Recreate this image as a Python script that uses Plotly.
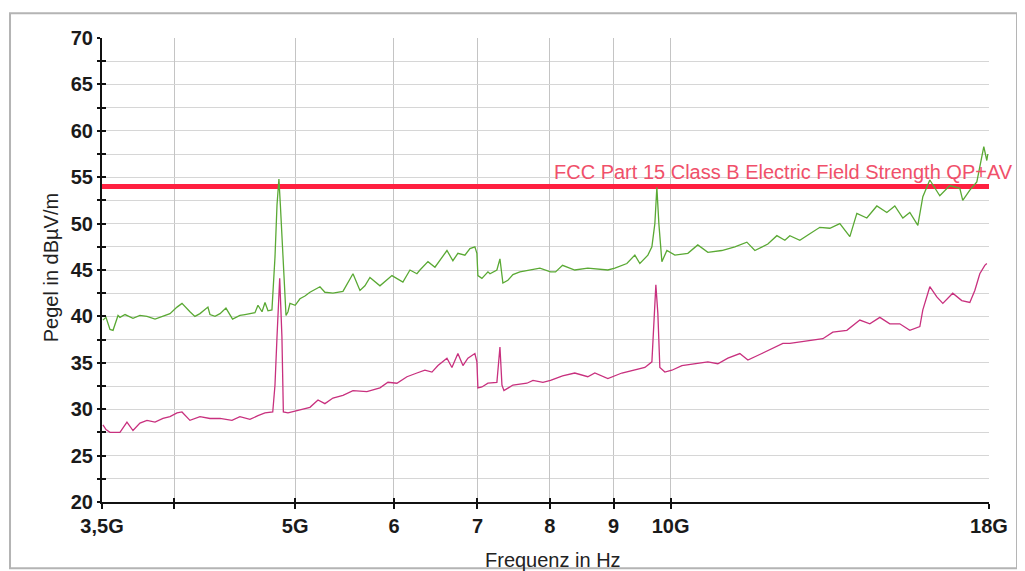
import plotly.graph_objects as go
import math

# ---------------- data ----------------
freq_peak_ghz = [3.506, 3.526, 3.552, 3.572, 3.605, 3.618, 3.652, 3.706, 3.754, 3.803, 3.860, 3.917,
                 3.968, 4.020, 4.057, 4.117, 4.155, 4.194, 4.256, 4.272, 4.312, 4.352, 4.400, 4.454,
                 4.515, 4.557, 4.599, 4.642, 4.668, 4.703, 4.729, 4.755, 4.790, 4.817, 4.835, 4.852,
                 4.865, 4.886, 4.916, 4.934, 4.952, 5.000, 5.044, 5.091, 5.138, 5.234, 5.282, 5.361,
                 5.461, 5.563, 5.635, 5.687, 5.740, 5.847, 5.934, 5.978, 6.100, 6.180, 6.260, 6.295,
                 6.389, 6.472, 6.617, 6.690, 6.752, 6.840, 6.904, 6.967, 6.993, 7.006, 7.058, 7.137,
                 7.164, 7.256, 7.297, 7.337, 7.405, 7.474, 7.571, 7.712, 7.856, 8.011, 8.086, 8.191,
                 8.378, 8.582, 8.906, 9.022, 9.224, 9.361, 9.448, 9.589, 9.660, 9.713, 9.749, 9.785,
                 9.803, 9.840, 9.931, 10.079, 10.323, 10.514, 10.712, 10.990, 11.259, 11.511, 11.683,
                 11.966, 12.167, 12.348, 12.462, 12.694, 12.931, 13.172, 13.417, 13.667, 13.922,
                 14.103, 14.365, 14.633, 14.906, 15.127, 15.353, 15.552, 15.784, 15.930, 16.137,
                 16.437, 16.744, 17.056, 17.148, 17.374, 17.600, 17.763, 17.828, 17.927, 17.960]
level_peak = [39.6, 39.9, 38.6, 38.5, 40.1, 39.9, 40.2, 39.8, 40.1, 40.0, 39.7, 40.0,
              40.3, 41.0, 41.4, 40.5, 40.0, 40.3, 41.0, 40.2, 40.0, 40.3, 40.9, 39.7,
              40.1, 40.2, 40.3, 40.4, 41.2, 40.5, 41.5, 40.6, 40.7, 46.4, 52.0, 54.8,
              52.0, 46.4, 40.1, 40.5, 41.4, 41.2, 41.9, 42.2, 42.6, 43.2, 42.6, 42.5,
              42.7, 44.6, 42.8, 43.3, 44.2, 43.3, 44.0, 44.4, 43.7, 45.0, 44.6, 45.0,
              45.9, 45.3, 47.1, 46.0, 46.8, 46.6, 47.3, 47.5, 46.8, 44.4, 44.1, 44.8,
              44.6, 45.0, 46.2, 43.6, 43.9, 44.5, 44.8, 45.0, 45.2, 44.8, 44.8, 45.5,
              45.0, 45.2, 45.0, 45.2, 45.7, 46.6, 45.7, 46.6, 47.5, 50.0, 53.9, 50.0,
              48.9, 45.9, 47.1, 46.6, 46.8, 47.7, 46.9, 47.1, 47.5, 48.0, 47.1,
              47.8, 48.7, 48.2, 48.7, 48.2, 48.9, 49.6, 49.5, 50.0, 48.6,
              51.1, 50.6, 51.9, 51.2, 51.9, 50.6, 51.2, 49.8, 52.9, 54.7,
              53.0, 54.1, 53.8, 52.5, 53.6, 54.5, 57.0, 58.3, 56.8, 57.5]

freq_avg_ghz = [3.506, 3.526, 3.552, 3.618, 3.665, 3.706, 3.754, 3.803, 3.860, 3.917, 3.968, 4.020,
                4.057, 4.117, 4.194, 4.272, 4.352, 4.449, 4.515, 4.599, 4.668, 4.729, 4.797, 4.817,
                4.835, 4.859, 4.879, 4.892, 4.934, 5.044, 5.138, 5.215, 5.282, 5.361, 5.461, 5.563,
                5.708, 5.847, 5.934, 6.033, 6.146, 6.260, 6.353, 6.436, 6.508, 6.617, 6.678, 6.752,
                6.815, 6.878, 6.967, 6.993, 7.006, 7.058, 7.137, 7.256, 7.297, 7.324, 7.351, 7.474,
                7.669, 7.756, 7.900, 8.011, 8.191, 8.378, 8.582, 8.694, 8.906, 9.139, 9.361, 9.536,
                9.660, 9.731, 9.767, 9.803, 9.894, 10.023, 10.210, 10.458, 10.712, 10.911, 11.115,
                11.363, 11.533, 11.834, 12.122, 12.302, 12.462, 12.931, 13.245, 13.491, 13.845,
                14.181, 14.445, 14.714, 14.988, 15.266, 15.552, 15.842, 15.930, 16.137, 16.347,
                16.529, 16.834, 17.117, 17.374, 17.535, 17.697, 17.861, 17.927]
level_avg = [28.3, 27.8, 27.5, 27.5, 28.6, 27.7, 28.5, 28.8, 28.6, 29.0, 29.2, 29.6,
             29.7, 28.8, 29.2, 29.0, 29.0, 28.8, 29.2, 28.9, 29.3, 29.6, 29.7, 32.6,
             37.8, 44.1, 37.8, 29.7, 29.6, 29.9, 30.2, 31.0, 30.6, 31.2, 31.5, 32.0,
             31.9, 32.3, 32.9, 32.8, 33.5, 33.9, 34.2, 34.0, 34.7, 35.5, 34.5, 36.0,
             34.7, 35.5, 36.0, 35.1, 32.3, 32.4, 32.8, 32.9, 36.7, 32.6, 32.0, 32.6,
             32.8, 33.1, 32.9, 33.1, 33.6, 33.9, 33.5, 33.9, 33.3, 33.9, 34.2, 34.5,
             35.1, 43.4, 40.3, 34.5, 34.0, 34.2, 34.7, 34.9, 35.1, 34.9, 35.5,
             36.0, 35.3, 36.0, 36.7, 37.1, 37.1, 37.4, 37.6, 38.3, 38.5,
             39.6, 39.2, 39.9, 39.2, 39.2, 38.5, 38.9, 40.7, 43.2, 42.1,
             41.4, 42.5, 41.7, 41.5, 42.8, 44.6, 45.5, 45.7]

limit_freq_ghz = [3.5, 18.0]
limit_level = [54.0, 54.0]
limit_name = "FCC Part 15 Class B Electric Field Strength QP+AV"

x_tick_vals_ghz = [3.5, 4, 5, 6, 7, 8, 9, 10, 18]
x_tick_text = ["3,5G", "", "5G", "6", "7", "8", "9", "10G", "18G"]
y_range = [20, 70]

# ---------------- figure ----------------
FONT = "Liberation Sans, Arial, sans-serif"
GREEN = "#5aa934"
MAGENTA = "#c8307e"
RED = "#ff2040"

fig = go.Figure()
fig.add_trace(go.Scatter(x=limit_freq_ghz, y=limit_level, mode="lines",
                         line=dict(color=RED, width=5), hoverinfo="skip", showlegend=False))
fig.add_trace(go.Scatter(x=freq_peak_ghz, y=level_peak, mode="lines",
                         line=dict(color=GREEN, width=1.3), showlegend=False))
fig.add_trace(go.Scatter(x=freq_avg_ghz, y=level_avg, mode="lines",
                         line=dict(color=MAGENTA, width=1.3), showlegend=False))
# helper (invisible) trace so the overlay axes carrying inner tick marks are drawn
fig.add_trace(go.Scatter(x=[x_tick_vals_ghz[0]], y=[y_range[0]], xaxis="x2", yaxis="y2",
                         mode="markers", marker=dict(opacity=0), hoverinfo="skip",
                         showlegend=False))

xr = [math.log10(x_tick_vals_ghz[0]), math.log10(x_tick_vals_ghz[-1])]

tickfont = dict(family=FONT, size=20, color="#1a1a1a", weight="bold")

# page body adds an 8px offset, so the figure is 8px smaller and margins shifted
fig.update_layout(
    width=1017, height=563,
    margin=dict(l=94, r=36, t=30, b=69),
    paper_bgcolor="white", plot_bgcolor="white",
    xaxis=dict(type="log", range=xr, tickvals=x_tick_vals_ghz, ticktext=x_tick_text,
               showgrid=True, gridcolor="#c4c4c4", gridwidth=1,
               showline=True, linecolor="#111", linewidth=2,
               ticks="outside", ticklen=5, tickwidth=2, tickcolor="#111",
               tickfont=tickfont, zeroline=False, fixedrange=True),
    yaxis=dict(range=y_range, tick0=20, dtick=5,
               showgrid=True, gridcolor="#d6d6d6", gridwidth=1,
               showline=True, linecolor="#111", linewidth=2,
               ticks="outside", ticklen=3, tickwidth=2, tickcolor="#111",
               minor=dict(dtick=2.5, ticks="outside", ticklen=3, tickwidth=2, tickcolor="#111",
                          showgrid=True, gridcolor="#d6d6d6", gridwidth=1),
               tickfont=tickfont, zeroline=False, fixedrange=True),
    xaxis2=dict(type="log", range=xr, overlaying="x", anchor="y", side="bottom",
                tickvals=x_tick_vals_ghz, showticklabels=False, showgrid=False,
                ticks="inside", ticklen=4, tickwidth=2, tickcolor="#111",
                zeroline=False, showline=False),
    yaxis2=dict(range=y_range, overlaying="y", anchor="x", side="left",
                tick0=20, dtick=2.5, showticklabels=False, showgrid=False,
                ticks="inside", ticklen=4, tickwidth=2, tickcolor="#111",
                zeroline=False, showline=False),
    showlegend=False,
)

# outer frame of the printed chart
fig.add_shape(type="rect", xref="paper", yref="paper",
              x0=-0.1037, x1=1.0316, y0=-0.1429, y1=1.0532,
              line=dict(color="#b4b4b4", width=2), layer="below")

# limit line label
fig.add_annotation(text=limit_name, xref="paper", yref="paper", x=0.5073, y=0.712,
                   xanchor="left", yanchor="middle", showarrow=False,
                   font=dict(family=FONT, size=20, color="#f0506a"))
# axis titles
fig.add_annotation(text="Frequenz in Hz", xref="paper", yref="paper", x=0.508, y=-0.125,
                   xanchor="center", yanchor="middle", showarrow=False,
                   font=dict(family=FONT, size=20, color="#222"))
fig.add_annotation(text="Pegel in dBµV/m", xref="paper", yref="paper", x=-0.058, y=0.505,
                   xanchor="center", yanchor="middle", showarrow=False, textangle=-90,
                   font=dict(family=FONT, size=20, color="#222"))

fig.write_html("out.html")
